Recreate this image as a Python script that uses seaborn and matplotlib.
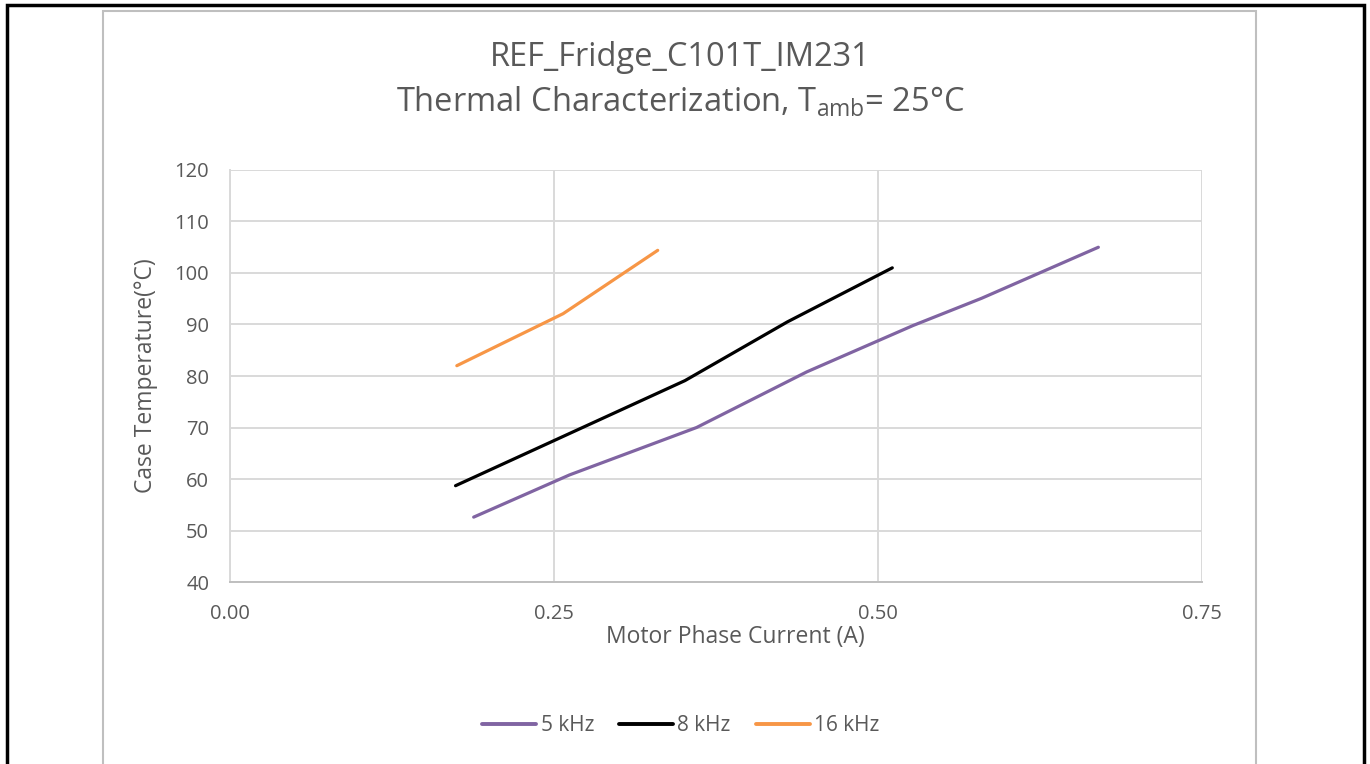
import pandas as pd
import numpy as np
import matplotlib
matplotlib.use("Agg")
import matplotlib.pyplot as plt
import seaborn as sns
from matplotlib.patches import Rectangle
from matplotlib.ticker import MultipleLocator

# values
current_5k = [0.188, 0.262, 0.360, 0.445, 0.527, 0.580, 0.670]
temp_5k = [52.6, 60.8, 70.0, 80.8, 89.8, 95.1, 105.0]
current_8k = [0.174, 0.351, 0.430, 0.511]
temp_8k = [58.7, 79.1, 90.5, 101.0]
current_16k = [0.175, 0.257, 0.330]
temp_16k = [82.0, 92.1, 104.4]
series_names = ["5 kHz", "8 kHz", "16 kHz"]
series_colors = ["#8064A2", "#000000", "#F79646"]

frames = []
for name, xs, ys in zip(series_names,
                        [current_5k, current_8k, current_16k],
                        [temp_5k, temp_8k, temp_16k]):
    frames.append(pd.DataFrame({"current": xs, "temp": ys, "freq": name}))
df = pd.concat(frames, ignore_index=True)

sns.set_style("white")
plt.rcParams['font.family'] = ['Open Sans', 'DejaVu Sans']
plt.rcParams['mathtext.fontset'] = 'custom'
plt.rcParams['mathtext.rm'] = 'Open Sans'
text_gray = "#595959"
grid_gray = "#D9D9D9"

fig = plt.figure(figsize=(13.7, 7.64), dpi=100)
ax = fig.add_axes([0.1679, 0.2382, 0.7095, 0.5393])

sns.lineplot(data=df, x="current", y="temp", hue="freq", sort=False,
             palette=dict(zip(series_names, series_colors)),
             linewidth=2.3, ax=ax, legend=False)

ax.set_xlim(0, 0.75)
ax.set_ylim(40, 120)
ax.xaxis.set_major_locator(MultipleLocator(0.25))
ax.xaxis.set_minor_locator(MultipleLocator(0.05))
ax.yaxis.set_major_locator(MultipleLocator(10))
ax.xaxis.set_major_formatter(matplotlib.ticker.FormatStrFormatter("%.2f"))
ax.grid(True, which="major", color=grid_gray, linewidth=1.4)
ax.set_axisbelow(True)
for s in ["top", "right"]:
    ax.spines[s].set_visible(False)
ax.spines["left"].set_color(grid_gray)
ax.spines["left"].set_linewidth(1.4)
ax.spines["bottom"].set_color("#BFBFBF")
ax.spines["bottom"].set_linewidth(1.4)
ax.tick_params(axis="x", which="both", direction="inout", length=10,
               color="#BFBFBF", width=1.2, labelsize=14.5,
               labelcolor=text_gray, pad=16)
ax.tick_params(axis="x", which="major", length=0)
ax.tick_params(axis="y", length=0, labelsize=14.5, labelcolor=text_gray, pad=15)

ax.set_xlabel("Motor Phase Current (A)", fontsize=16.5, color=text_gray)
ax.xaxis.set_label_coords(0.52, -0.104)
ax.set_ylabel("Case Temperature(°C)", fontsize=16.5, color=text_gray)
ax.yaxis.set_label_coords(-0.074, 0.5)

fig.text(0.4965, 0.925, "REF_Fridge_C101T_IM231", ha="center", va="center",
         fontsize=23.5, color=text_gray)
fig.text(0.4965, 0.867, r"Thermal Characterization, T$_{\mathrm{amb}}$= 25°C",
         ha="center", va="center", fontsize=23.5, color=text_gray)

handles = [plt.Line2D([0], [0], color=c, linewidth=2.8) for c in series_colors]
fig.legend(handles, series_names, loc="center", bbox_to_anchor=(0.497, 0.05),
           ncol=3, frameon=False, fontsize=15, labelcolor=text_gray,
           handlelength=2.6, handletextpad=0.2, columnspacing=1.2)

# chart frame and outer page frame
fig.patches.append(Rectangle((103 / 1370, -0.01), (1256 - 103) / 1370,
                             (764 - 11) / 764 + 0.01, transform=fig.transFigure,
                             fill=False, edgecolor="#BFBFBF", linewidth=1.5))
fig.patches.append(Rectangle((7 / 1370, -0.02), (1364 - 7) / 1370,
                             (764 - 5) / 764 + 0.02, transform=fig.transFigure,
                             fill=False, edgecolor="black", linewidth=2.5))

fig.savefig("out.png", dpi=100)
